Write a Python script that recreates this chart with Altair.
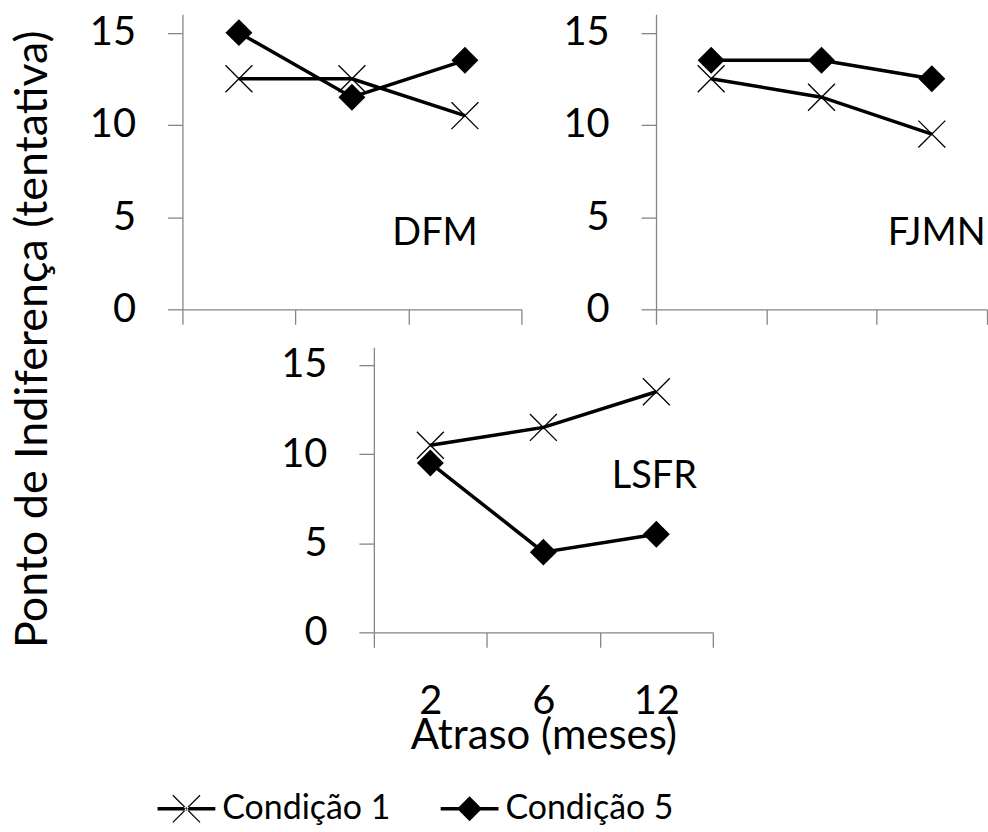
import altair as alt
import pandas as pd

delays = ["2", "6", "12"]
conds = ["Condição 1", "Condição 5"]
participants = ["DFM", "FJMN", "LSFR"]
cond1 = {"DFM": [12.5, 12.5, 10.5], "FJMN": [12.5, 11.5, 9.5], "LSFR": [10.5, 11.5, 13.5]}
cond5 = {"DFM": [15, 11.5, 13.5], "FJMN": [13.5, 13.5, 12.5], "LSFR": [9.5, 4.5, 5.5]}
y_title = "Ponto de Indiferença (tentativa)"
x_title = "Atraso (meses)"

FONT = "Lato"
GRAY = "#868686"
XPATH = "M-1,-1L1,1M-1,1L1,-1"
# legend symbols: drawn at twice the nominal symbol radius
LEG1 = ("M-2,-0.12H2V0.12H-2Z "
        "M-0.97,-0.91L0.91,0.97L0.97,0.91L-0.91,-0.97Z "
        "M-0.97,0.91L-0.91,0.97L0.97,-0.91L0.91,-0.97Z")
LEG5 = "M-2,-0.12H2V0.12H-2Z M-0.86,0L0,-0.86L0.86,0L0,0.86Z"

rows = []
for p in participants:
    for i, d in enumerate(delays):
        rows.append({"p": p, "atraso": d, "cond": conds[0], "valor": cond1[p][i]})
        rows.append({"p": p, "atraso": d, "cond": conds[1], "valor": cond5[p][i]})
df = pd.DataFrame(rows)


def panel(name, w, h, bottom, lab_y, lab_dx, lab_align="center", xrange=None,
          yoffset=0, extra=None):
    d = df[df.p == name]
    base = alt.Chart(d)
    sc = dict(type="band", paddingInner=0, paddingOuter=0)
    if xrange is not None:
        sc["range"] = xrange
    x = alt.X(
        "atraso:N",
        sort=delays,
        scale=alt.Scale(**sc),
        axis=alt.Axis(
            tickBand="extent",
            labels=bottom,
            title=x_title if bottom else None,
            labelAngle=0,
            labelPadding=34,
            titlePadding=-5,
            titleFont=FONT,
            titleFontSize=42,
            titleFontWeight="normal",
            titleColor="black",
        ),
    )
    y = alt.Y(
        "valor:Q",
        scale=alt.Scale(domain=[0, 15]),
        axis=alt.Axis(values=[0, 5, 10, 15], title=None, labelPadding=32, offset=yoffset),
    )
    line = base.mark_line(color="black", strokeWidth=3.5).encode(x=x, y=y, detail="cond:N")
    p5 = base.transform_filter(alt.datum.cond == conds[1]).mark_point(
        shape="diamond", size=729, filled=True, color="black", opacity=1
    ).encode(x=x, y=y)
    p1 = base.transform_filter(alt.datum.cond == conds[0]).mark_point(
        shape=XPATH, size=729, filled=False, color="black", strokeWidth=1.3, opacity=1
    ).encode(x=x, y=y)
    lab = alt.Chart(pd.DataFrame({"t": [name]})).mark_text(
        font=FONT, fontSize=38, color="black", align=lab_align, baseline="middle", dx=lab_dx
    ).encode(x=alt.datum("12"), y=alt.datum(lab_y), text="t:N")
    layers = [line, p5, p1, lab]
    if extra is not None:
        layers += extra
    return alt.layer(*layers).properties(width=w, height=h)


ytxt = alt.Chart(pd.DataFrame({"t": [y_title]})).mark_text(
    font=FONT, fontSize=45, color="black", angle=270, align="center", baseline="middle"
).encode(x=alt.value(-150), y=alt.value(326), text="t:N")

legend_layer = alt.Chart(pd.DataFrame({"cond": conds})).mark_point(
    size=0, filled=True, color="black"
).encode(
    shape=alt.Shape(
        "cond:N",
        scale=alt.Scale(domain=conds, range=[LEG1, LEG5]),
        legend=alt.Legend(
            orient="none",
            legendX=-13,
            legendY=780,
            direction="horizontal",
            title=None,
            labelFont=FONT,
            labelFontSize=34,
            labelColor="black",
            labelLimit=0,
            symbolSize=841,
            symbolStrokeColor="black",
            symbolFillColor="black",
            symbolStrokeWidth=0,
            symbolOpacity=1,
            columnPadding=50,
            labelOffset=19,
        ),
    )
)

pa = panel("DFM", 340, 296, False, 4.1, -30, extra=[ytxt])
pb = panel("FJMN", 332, 296, False, 4.1, 54, lab_align="right")
pc = panel("LSFR", 340, 286, True, 8.7, -2, xrange=[192, 532], yoffset=-192,
           extra=[legend_layer])

chart = alt.concat(
    pa, pb, pc, columns=2, bounds="flush",
    spacing={"column": 135, "row": 38},
).properties(
    padding={"left": 10, "top": 11, "right": 0, "bottom": 0}
).configure_view(stroke=None).configure_axis(
    domainColor=GRAY,
    tickColor=GRAY,
    domainWidth=1.3,
    tickWidth=1.3,
    tickSize=15,
    grid=False,
    labelFont=FONT,
    labelFontSize=40,
    labelColor="black",
)

chart.save("out.html", embed_options={"renderer": "svg", "actions": False})
